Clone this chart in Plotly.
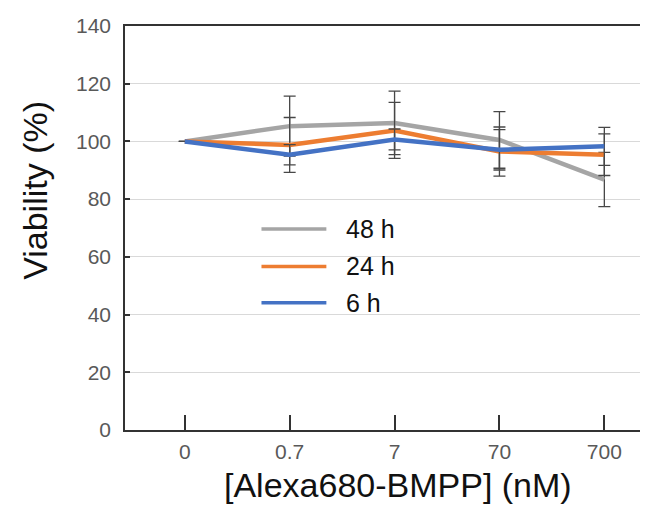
import plotly.graph_objects as go

categories = ["0", "0.7", "7", "70", "700"]
series_names = ["48 h", "24 h", "6 h"]
v48 = [100, 105.3, 106.4, 100.5, 86.8]
e48 = [0, 10.4, 11.0, 9.8, 9.4]
v24 = [100, 98.8, 103.8, 96.5, 95.4]
e24 = [0, 9.5, 9.7, 8.5, 7.2]
v6 = [100, 95.4, 100.7, 97.1, 98.3]
e6 = [0, 3.5, 3.6, 7.0, 6.6]
colors = ["#A5A5A5", "#ED7D31", "#4472C4"]
y_ticks = [0, 20, 40, 60, 80, 100, 120, 140]
x_title = "[Alexa680-BMPP] (nM)"
y_title = "Viability (%)"

fig = go.Figure()
xs = list(range(len(categories)))
for name, vals, errs, col in zip(series_names, [v48, v24, v6], [e48, e24, e6], colors):
    fig.add_trace(go.Scatter(
        x=xs, y=vals, name=name, mode="lines",
        line=dict(color=col, width=4.5),
        error_y=dict(type="data", array=errs, visible=True, color="#474747",
                     thickness=1.3, width=6),
        showlegend=False,
    ))

# custom legend
leg_y = [0.4976, 0.405, 0.315]
for name, col, yy in zip(series_names, colors, leg_y):
    fig.add_shape(type="line", xref="paper", yref="paper",
                  x0=0.265, x1=0.391, y0=yy, y1=yy,
                  line=dict(color=col, width=3.5))
    fig.add_annotation(xref="paper", yref="paper", x=0.426, y=yy, text=name,
                       showarrow=False, xanchor="left", yanchor="middle",
                       font=dict(size=25, color="#111111"))

# axis titles
fig.add_annotation(xref="paper", yref="paper", x=-0.174, y=0.593, text=y_title,
                   textangle=-90, showarrow=False, xanchor="center", yanchor="middle",
                   font=dict(size=34, color="#111111"))
fig.add_annotation(xref="paper", yref="paper", x=0.530, y=-0.137, text=x_title,
                   showarrow=False, xanchor="center", yanchor="middle",
                   font=dict(size=34, color="#111111"))

fig.update_layout(
    width=640, height=498,
    margin=dict(l=117, r=6, t=12, b=76),
    paper_bgcolor="white", plot_bgcolor="white",
    font=dict(family="Liberation Sans, Arial, sans-serif"),
    showlegend=False,
)
fig.update_xaxes(
    tickmode="array", tickvals=xs, ticktext=categories,
    range=[-0.57, 4.34],
    showline=True, linecolor="#333333", linewidth=1.5, mirror=True,
    ticks="inside", ticklen=15, tickcolor="#333333", tickwidth=1.5,
    showgrid=False, zeroline=False, ticklabelstandoff=2,
    tickfont=dict(size=21, color="#595959"),
)
fig.update_yaxes(
    range=[0, 140], tickmode="array", tickvals=y_ticks,
    showline=True, linecolor="#333333", linewidth=1.5, mirror=True,
    ticks="inside", ticklen=5, tickcolor="#333333", tickwidth=1.5,
    showgrid=True, gridcolor="#D9D9D9", gridwidth=1, zeroline=False,
    ticklabelstandoff=8, ticklabeloverflow="allow",
    tickfont=dict(size=21, color="#595959"),
)

fig.write_html("out.html")
